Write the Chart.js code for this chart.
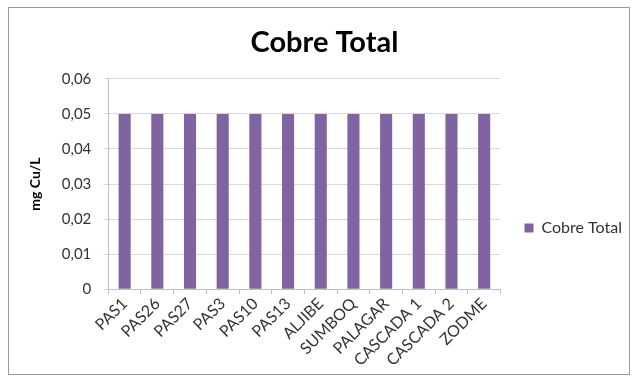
<!DOCTYPE html>
<html>
<head>
<meta charset="utf-8">
<script src="https://cdn.jsdelivr.net/npm/chart.js@4"></script>
<style>
  body { margin: 0; background: #fff; }
  #box {
    position: absolute; left: 8px; top: 7px; width: 620px; height: 366px;
    border: 1px solid #9a9a9a;
  }
</style>
</head>
<body>
<div id="box"><canvas id="bar" width="620" height="366"></canvas></div>
<script>
const sites = ["PAS1", "PAS26", "PAS27", "PAS3", "PAS10", "PAS13", "ALJIBE",
  "SUMBOQ", "PALAGAR", "CASCADA 1", "CASCADA 2", "ZODME"];
const cobreTotal = [0.05, 0.05, 0.05, 0.05, 0.05, 0.05, 0.05, 0.05, 0.05, 0.05, 0.05, 0.05];
const yTicks = [0, 0.01, 0.02, 0.03, 0.04, 0.05, 0.06];

Chart.defaults.font.family = "Lato, 'Open Sans', sans-serif";
Chart.defaults.color = "#222";

// push the legend item a bit below the middle and to the right, like the original
const legendShift = {
  id: "legendShift",
  afterLayout(chart) {
    chart.legend.top += 74;
    chart.legend.left += 4;
    chart.legend.right += 4;
  },
};

let barChart = new Chart(document.querySelector("#bar"), {
  type: "bar",
  data: {
    labels: sites,
    datasets: [
      {
        label: "Cobre Total",
        data: cobreTotal,
        backgroundColor: "#8064a2",
        barPercentage: 0.37,
        categoryPercentage: 1,
      },
    ],
  },
  plugins: [legendShift],
  options: {
    responsive: false,
    animation: false,
    layout: { padding: { left: 12, right: 1, top: 4, bottom: 4 } },
    plugins: {
      title: {
        display: true,
        text: "Cobre Total",
        color: "#000",
        font: { size: 29, weight: "bold" },
        padding: { top: 13, bottom: 19 },
      },
      legend: {
        position: "right",
        labels: {
          boxWidth: 9,
          boxHeight: 9,
          padding: 20,
          font: { size: 16 },
          color: "#333",
        },
      },
      tooltip: { enabled: false },
    },
    scales: {
      y: {
        min: 0,
        max: 0.06,
        afterBuildTicks: (axis) => {
          axis.ticks = yTicks.map((v) => ({ value: v }));
        },
        ticks: {
          font: { size: 15 },
          color: "#333",
          padding: 12,
          callback: (v) => (v === 0 ? "0" : v.toFixed(2).replace(".", ",")),
        },
        grid: { color: "#d9d9d9", tickLength: 5 },
        border: { color: "#bfbfbf" },
        title: {
          display: true,
          text: "mg Cu/L",
          color: "#000",
          font: { size: 14, weight: "bold" },
          padding: 6,
        },
      },
      x: {
        ticks: {
          font: { size: 16 },
          color: "#333",
          maxRotation: 45,
          minRotation: 45,
          padding: 0,
        },
        grid: { drawOnChartArea: false, color: "#bfbfbf", tickLength: 5 },
        border: { color: "#bfbfbf" },
      },
    },
  },
});
</script>
</body>
</html>
